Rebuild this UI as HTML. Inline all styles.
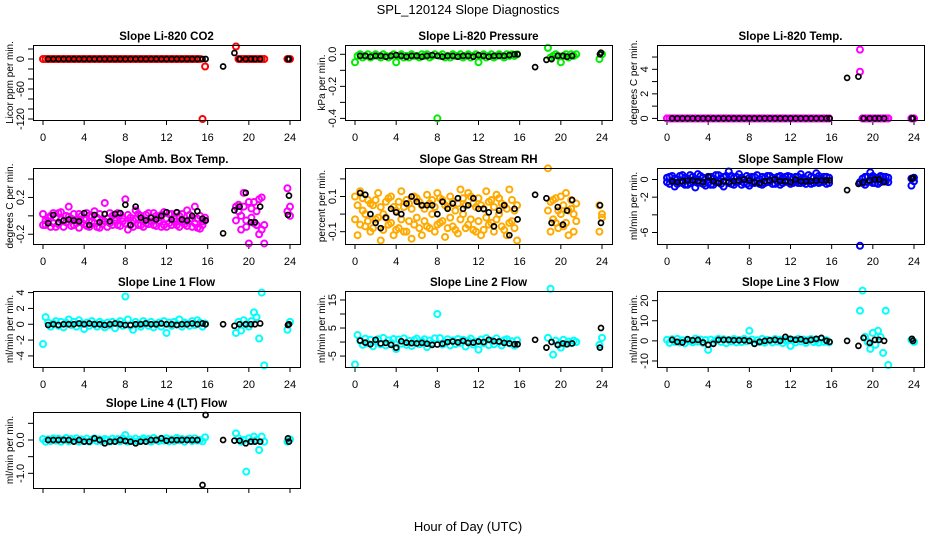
<!DOCTYPE html>
<html><head><meta charset="utf-8"><style>
html,body{margin:0;padding:0;background:#fff;}
svg{display:block;font-family:"Liberation Sans",sans-serif;}
</style></head><body>
<svg id="chart" width="936" height="540" viewBox="0 0 936 540" xmlns="http://www.w3.org/2000/svg">
<text x="468" y="14" text-anchor="middle" font-size="13">SPL_120124  Slope Diagnostics</text>
<text x="468" y="531" text-anchor="middle" font-size="13">Hour of Day (UTC)</text>
</svg>
<script>
const cHours=[0,0.25,0.5,0.75,1,1.25,1.5,1.75,2,2.25,2.5,2.75,3,3.25,3.5,3.75,4,4.25,4.5,4.75,5,5.25,5.5,5.75,6,6.25,6.5,6.75,7,7.25,7.5,7.75,8,8.25,8.5,8.75,9,9.25,9.5,9.75,10,10.25,10.5,10.75,11,11.25,11.5,11.75,12,12.25,12.5,12.75,13,13.25,13.5,13.75,14,14.25,14.5,14.75,15,15.25,15.5,15.75,18.75,19,19.25,19.5,19.75,20,20.25,20.5,20.75,21,21.25,21.5,23.75,24];
const kHours=[0.5,1,1.5,2,2.5,3,3.5,4,4.5,5,5.5,6,6.5,7,7.5,8,8.5,9,9.5,10,10.5,11,11.5,12,12.5,13,13.5,14,14.5,15,15.5,15.8,17.5,18.6,19.1,19.7,20.2,20.6,21.1,23.8,23.9];
const xTicks=[0,4,8,12,16,20,24];

const co2C=[0,0,0,0,0,0,0,0,0,0,0,0,0,0,0,0,0,0,0,0,0,0,0,0,0,0,0,0,0,0,0,0,0,0,0,0,0,0,0,0,0,0,0,0,0,0,0,0,0,0,0,0,0,0,0,0,0,0,0,0,0,0,-120,-15,25,0,0,0,0,0,0,0,0,0,0,0,0,0];
const co2K=[0,0,0,0,0,0,0,0,0,0,0,0,0,0,0,0,0,0,0,0,0,0,0,0,0,0,0,0,0,0,0,0,-15,12,0,0,0,0,0,0,0];
const presC=[-0.05,-0.01,0,-0.02,-0.01,0,-0.02,-0.01,0,-0.01,-0.02,0,-0.01,-0.02,-0.01,0,-0.05,-0.01,0,-0.02,-0.01,-0.02,0,-0.01,-0.01,-0.02,0,-0.01,0,-0.02,-0.01,0,-0.40,-0.01,0,-0.02,-0.01,-0.02,0,-0.01,-0.01,0,-0.02,-0.01,0,-0.02,-0.01,0,-0.05,-0.01,0,-0.02,-0.01,0,-0.02,-0.01,0,-0.01,-0.02,0,-0.01,0,-0.01,0,0.04,-0.02,-0.01,0,-0.01,-0.05,-0.01,0,-0.02,0,-0.01,0,-0.03,0];
const presK=[-0.01,-0.01,-0.015,-0.01,-0.01,-0.015,-0.01,-0.005,-0.01,-0.015,-0.01,-0.01,-0.015,-0.01,-0.005,-0.01,-0.015,-0.01,-0.01,-0.015,-0.01,-0.01,-0.015,-0.005,-0.01,-0.015,-0.01,-0.01,-0.01,-0.005,0,0,-0.08,-0.035,-0.03,-0.01,-0.01,-0.015,-0.01,0,0.01];
const tempC=[0,0,0,0,0,0,0,0,0,0,0,0,0,0,0,0,0,0,0,0,0,0,0,0,0,0,0,0,0,0,0,0,0,0,0,0,0,0,0,0,0,0,0,0,0,0,0,0,0,0,0,0,0,0,0,0,0,0,0,0,0,0,0,0,5.6,0,0,0,0,0,0,0,0,0,0,0,0,0];
const tempC2=[0,0,0,0,0,0,0,0,0,0,0,0,0,0,0,0,0,0,0,0,0,0,0,0,0,0,0,0,0,0,0,0,0,0,0,0,0,0,0,0,0,0,0,0,0,0,0,0,0,0,0,0,0,0,0,0,0,0,0,0,0,0,0,0,3.8,0,0,0,0,0,0,0,0,0,0,0,0,0];
const tempK=[0,0,0,0,0,0,0,0,0,0,0,0,0,0,0,0,0,0,0,0,0,0,0,0,0,0,0,0,0,0,0,0,3.3,3.4,0,0,0,0,0,0,0];
const ambC=[-0.1,-0.05,-0.02,0.0,-0.08,-0.12,0.03,-0.04,-0.06,0.0,0.1,-0.03,-0.1,-0.05,0.02,-0.07,-0.04,-0.11,0.0,-0.06,0.05,-0.02,-0.13,-0.05,0.14,-0.03,-0.08,0.0,-0.05,-0.1,0.02,-0.06,0.18,-0.15,-0.02,-0.05,0.06,-0.1,0.0,-0.04,-0.08,0.03,-0.06,-0.1,0.0,-0.05,-0.12,0.04,-0.03,-0.08,0.02,-0.06,-0.1,0.0,-0.04,-0.09,0.06,-0.05,-0.12,0.1,-0.03,-0.14,-0.06,-0.02,0.1,0.05,-0.15,0.25,-0.05,-0.3,0.08,0.15,-0.1,-0.2,0.2,-0.3,0.3,0.0];
const ambC2=[0.02,-0.1,-0.06,-0.12,0.03,-0.02,-0.09,0.04,-0.12,-0.07,-0.01,-0.11,0.02,-0.08,-0.13,0.0,-0.09,0.03,-0.12,-0.01,-0.08,-0.12,0.02,-0.09,-0.06,-0.12,0.03,-0.1,-0.02,0.03,-0.11,-0.03,-0.08,0.01,-0.1,-0.12,-0.03,0.02,-0.1,-0.12,0.01,-0.09,-0.02,0.03,-0.11,-0.02,0.01,-0.1,-0.12,0.02,-0.1,-0.03,0.03,-0.12,0.02,-0.06,-0.11,0.01,-0.03,-0.08,-0.13,0.0,-0.1,-0.05,-0.05,0.12,0.0,0.1,-0.12,0.15,-0.02,-0.08,0.05,0.18,-0.15,-0.1,0.05,0.1];
const ambK=[-0.08,0.01,-0.07,-0.05,-0.04,-0.05,-0.06,0.03,-0.1,0.01,-0.07,0.02,-0.06,0.02,0.03,0.12,-0.1,0.1,-0.02,-0.05,-0.02,-0.04,0.0,0.04,-0.04,0.04,-0.04,-0.05,0.0,0.05,-0.03,-0.05,-0.19,0.06,0.1,0.25,-0.07,-0.07,0.1,0.01,0.22];
const rhC=[0.1,-0.12,0.13,0.02,-0.07,0.08,-0.1,0.05,-0.03,0.12,-0.15,0.0,0.07,-0.06,0.1,-0.12,0.02,-0.08,0.13,0.04,-0.1,0.06,-0.14,0.1,-0.02,0.07,-0.12,0.03,0.11,-0.08,0.0,-0.1,0.12,-0.05,0.08,-0.13,0.04,0.1,-0.07,0.02,-0.11,0.14,0.0,-0.08,0.12,-0.03,0.06,-0.1,0.09,-0.12,0.03,0.13,-0.06,0.08,-0.1,0.11,0.0,-0.07,0.05,-0.12,0.14,-0.04,0.02,-0.15,0.26,-0.1,0.08,-0.05,0.02,0.1,-0.07,0.12,-0.12,0.03,-0.1,0.06,-0.1,-0.02];
const rhC2=[-0.03,0.05,-0.06,0.09,0.0,-0.04,0.06,-0.08,0.08,-0.02,0.04,-0.09,-0.02,0.09,-0.05,0.04,-0.09,0.07,-0.03,-0.1,0.08,-0.04,0.03,-0.06,0.09,-0.08,0.05,-0.04,-0.07,0.06,0.08,0.04,-0.06,0.09,-0.04,0.05,-0.08,-0.02,0.07,-0.09,0.06,-0.03,0.09,0.05,-0.06,0.1,-0.09,0.04,-0.04,0.05,-0.09,-0.02,0.07,-0.05,0.04,-0.03,0.09,0.06,-0.09,0.03,-0.05,0.08,-0.08,0.05,0.02,0.07,-0.03,0.09,-0.08,0.0,0.05,-0.05,0.02,0.08,0.0,-0.04,0.05,0.0];
const rhK=[0.12,0.11,0.0,-0.05,-0.08,-0.02,0.03,0.01,0.0,0.06,0.1,0.07,0.05,0.05,0.05,0.0,0.07,0.03,0.06,0.09,0.03,0.05,0.09,0.03,0.03,0.01,-0.07,0.02,0.05,-0.12,0.03,-0.03,0.11,0.09,-0.05,0.04,-0.06,0.02,0.08,0.05,-0.05];
const flowC=[0.2,-0.5,0.4,-0.8,0.0,-0.3,0.5,-0.6,0.1,-0.4,0.3,-0.9,0.6,-0.2,0.2,-0.7,-0.4,0.3,-0.6,0.5,-0.2,0.1,-0.8,0.4,0.9,-0.5,0.2,-0.3,0.6,-0.6,0.0,0.4,-0.7,0.3,-0.4,0.5,0.0,-0.6,0.2,-0.3,0.4,-0.5,0.1,0.3,-0.6,0.2,-0.2,0.4,-0.5,0.1,0.3,-0.4,0.6,-0.3,0.0,0.5,-0.5,0.2,0.7,-0.4,0.1,0.3,-0.5,0.2,-7.5,0.1,-0.6,0.3,0.8,-0.4,0.2,-0.5,0.4,-0.2,0.3,-0.3,-0.7,0.2];
const flowC2=[-0.3,0.3,-0.2,0.1,-0.5,0.4,-0.4,0.2,-0.6,0.5,-0.3,0.0,-0.4,0.4,-0.5,0.1,0.3,-0.6,0.1,-0.3,0.5,-0.5,0.3,-0.2,-0.4,0.4,-0.6,0.3,-0.2,0.2,-0.4,-0.5,0.2,-0.4,0.3,-0.2,-0.5,0.3,-0.4,0.4,-0.2,0.2,-0.5,-0.3,0.4,-0.4,0.3,-0.3,0.3,-0.4,-0.2,0.3,-0.4,0.2,-0.5,-0.2,0.3,-0.4,-0.2,0.4,-0.3,-0.2,0.3,-0.4,-0.3,-0.4,0.3,-0.3,-0.2,0.4,-0.4,0.2,-0.3,0.3,-0.2,0.2,0.1,-0.2];
const flowK=[-0.2,-0.3,-0.2,-0.1,-0.1,-0.2,-0.3,0.3,-0.2,-0.4,-0.2,-0.3,-0.2,-0.1,0.0,-0.1,-0.3,-0.4,-0.2,-0.1,0.0,-0.2,-0.2,-0.3,0.0,-0.2,-0.2,-0.2,-0.1,-0.1,-0.1,-0.1,-1.2,-0.5,-0.3,-0.1,0.0,0.0,-0.3,0.1,0.2];
const line1C=[-2.5,0.9,0.2,-0.3,0.1,0.4,-0.2,0.3,-0.4,0.2,0.6,-0.1,0.3,-0.3,0.5,0.1,-0.6,0.2,-0.2,0.4,0.0,-0.3,0.3,0.1,-0.4,0.2,-0.1,0.3,-0.5,0.1,0.4,-0.2,3.5,0.6,-0.2,-0.7,0.3,0.0,-0.3,0.4,0.1,-0.2,0.3,-0.4,0.0,0.2,-0.3,0.4,-1.1,0.2,-0.2,0.3,0.0,0.6,-0.3,0.2,0.1,-0.2,0.4,-0.1,0.5,0.2,-0.3,0.1,-1.1,0.3,-0.8,0.5,0.0,-0.3,0.4,1.5,0.9,-1.8,4.0,-5.2,-0.7,0.3];
const line1K=[-0.1,0.0,-0.1,0.0,0.0,0.0,0.1,0.0,0.1,0.0,0.0,-0.1,0.0,0.1,0.0,-0.1,-0.1,0.0,0.0,0.1,0.0,0.0,0.1,0.0,0.0,-0.1,0.0,0.0,0.1,0.0,0.1,0.0,0.0,-0.2,0.0,0.0,0.0,0.0,0.1,-0.1,0.0];
const line2C=[-8,2.5,0.5,-1.0,1.2,-0.5,0.8,-1.5,0.3,1.0,-0.8,1.5,-1.2,0.6,-0.3,1.1,-2.5,0.9,-0.6,1.3,-1.0,0.4,-1.4,0.7,1.2,-0.8,0.2,1.0,-1.8,0.5,-0.4,1.3,10,1.4,-0.9,-0.2,1.0,-1.2,0.6,-0.7,1.1,-0.3,0.8,-1.6,0.4,1.2,-0.9,0.2,-2.7,0.9,-0.4,1.4,-1.1,0.5,-0.8,1.3,0.0,-1.2,0.7,1.0,-0.5,0.3,-1.3,0.6,1.5,19,-4.5,0.5,-1.0,-2.0,0.8,-0.6,0.2,-0.4,0.5,0.0,-1.0,1.5];
const line2K=[0.5,-0.2,-0.8,0.8,-0.5,-0.3,-1.0,-2.0,0.3,-0.2,-0.4,-0.5,-0.3,-0.6,-1.0,-0.9,-0.6,0.0,0.2,-0.1,0.4,-0.3,-0.2,0.2,0.0,0.8,0.3,0.2,-0.3,-0.5,-0.8,-0.8,0.8,-2.0,0.0,-1.0,-0.5,-0.8,-0.5,-2.0,5.0];
const line3C=[0.5,-1.0,0.8,-0.5,1.0,-0.8,0.3,-1.2,0.6,0.0,-0.7,1.1,-0.4,0.7,-1.0,0.4,-4.5,0.6,-0.9,0.2,1.0,-0.5,0.8,-1.1,0.4,-0.3,0.9,-0.8,0.5,-0.6,1.0,-0.2,5,0.7,-1.0,0.3,-0.6,1.0,-0.9,0.5,0.2,-0.8,0.9,-0.4,0.6,-1.1,0.3,0.8,-2.5,0.5,-0.8,1.0,-0.3,0.7,-1.0,0.4,0.9,-0.6,0.2,-0.9,1.0,-0.5,0.3,-0.8,15,25,2,-0.5,-4,4,-2,5,2,-6,15,-12,0.5,-0.5];
const line3K=[0.5,-0.5,-0.8,0.8,0.3,0.5,-0.8,-2.0,-1.5,0.5,0.5,0.5,0.3,0.3,0.3,0.0,-1.5,-0.5,0.0,0.3,0.5,0.0,2.0,1.0,0.5,0.8,0.0,0.5,1.0,1.5,0.0,-0.5,0.0,-2.5,1.5,-1.0,0.5,0.5,0.0,1.0,0.0];
const line4C=[0.03,-0.05,0.02,-0.03,0.05,-0.02,0.04,-0.05,0.01,0.06,-0.04,0.03,-0.02,0.05,-0.05,0.02,-0.03,0.04,-0.05,0.01,0.05,-0.03,0.02,-0.04,0.03,0.0,-0.05,0.04,-0.02,0.03,-0.04,0.05,0.15,-0.05,0.02,-0.03,0.04,-0.04,0.01,0.05,-0.02,0.03,-0.05,0.06,0.0,-0.03,0.04,-0.02,0.05,-0.04,0.02,-0.03,0.06,-0.01,0.03,-0.05,0.02,0.04,-0.03,0.05,-0.02,0.0,-0.04,0.08,0.2,0.05,-0.05,0.0,-0.95,0.05,-0.03,0.1,0.0,-0.3,0.1,-0.05,-0.05,0.02];
const line4K=[0.0,0.0,0.0,0.0,0.0,-0.05,0.0,-0.05,-0.05,0.05,0.0,-0.1,-0.05,-0.05,0.0,-0.03,-0.05,-0.1,-0.05,-0.05,0.0,0.0,0.05,-0.02,0.0,0.0,0.0,0.0,0.0,0.0,-1.35,0.75,0.0,-0.02,-0.02,-0.1,-0.05,-0.05,-0.05,0.05,-0.05];

const panels=[
 {id:'co2',title:'Slope Li-820 CO2',ylab:'Licor ppm per min.',col:0,row:0,ymin:-122,ymax:28,ticks:[20,0,-20,-40,-60,-80,-100,-120],labels:[0,-60,-120],color:'#ff0000',series:[co2C],black:co2K},
 {id:'pressure',title:'Slope Li-820 Pressure',ylab:'kPa per min.',col:1,row:0,ymin:-0.41,ymax:0.058,ticks:[0,-0.1,-0.2,-0.3,-0.4],labels:[0,-0.2,-0.4],fmt:1,color:'#00ee00',series:[presC],black:presK},
 {id:'temp',title:'Slope Li-820 Temp.',ylab:'degrees C per min.',col:2,row:0,ymin:-0.13,ymax:5.98,ticks:[0,1,2,3,4,5],labels:[0,2,4],color:'#ff00ff',series:[tempC,tempC2],black:tempK},
 {id:'amb-box-temp',title:'Slope Amb. Box Temp.',ylab:'degrees C per min.',col:0,row:1,ymin:-0.306,ymax:0.52,ticks:[-0.2,0,0.2,0.4],labels:[-0.2,0.2],fmt:1,color:'#ff00ff',series:[ambC,ambC2],black:ambK},
 {id:'gas-stream-rh',title:'Slope Gas Stream RH',ylab:'percent per min.',col:1,row:1,ymin:-0.17,ymax:0.262,ticks:[-0.1,0,0.1,0.2],labels:[-0.1,0.1],fmt:1,color:'#ffaa00',series:[rhC,rhC2],black:rhK},
 {id:'sample-flow',title:'Slope Sample Flow',ylab:'ml/min per min.',col:2,row:1,ymin:-7.3,ymax:1.3,ticks:[0,-2,-4,-6],labels:[0,-2,-6],color:'#0000ff',series:[flowC,flowC2],black:flowK},
 {id:'line1-flow',title:'Slope Line 1 Flow',ylab:'ml/min per min.',col:0,row:2,ymin:-5.4,ymax:4.2,ticks:[4,2,0,-2,-4],labels:[4,2,0,-2,-4],color:'#00ffff',series:[line1C],black:line1K},
 {id:'line2-flow',title:'Slope Line 2 Flow',ylab:'ml/min per min.',col:1,row:2,ymin:-8.9,ymax:18.2,ticks:[15,10,5,0,-5],labels:[15,5,-5],color:'#00ffff',series:[line2C],black:line2K},
 {id:'line3-flow',title:'Slope Line 3 Flow',ylab:'ml/min per min.',col:2,row:2,ymin:-13,ymax:24.8,ticks:[20,10,0,-10],labels:[20,10,0,-10],color:'#00ffff',series:[line3C],black:line3K},
 {id:'line4-flow',title:'Slope Line 4 (LT) Flow',ylab:'ml/min per min.',col:0,row:3,ymin:-1.44,ymax:0.84,ticks:[0.5,0,-0.5,-1.0],labels:[0,-1],fmt:1,color:'#00ffff',series:[line4C],black:line4K}
];
const rowTop=[45,168,291,412], rowBot=[120,244,367,488];
const NS='http://www.w3.org/2000/svg';
const svg=document.getElementById('chart');
function mk(tag,attrs,parent){const e=document.createElementNS(NS,tag);for(const k in attrs)e.setAttribute(k,attrs[k]);(parent||svg).appendChild(e);return e;}
panels.forEach(p=>{
  const L=33+312*p.col,R=300+312*p.col,T=rowTop[p.row],B=rowBot[p.row];
  const xs=h=>L+10+h*(247/24);
  const ys=v=>B-(v-p.ymin)/(p.ymax-p.ymin)*(B-T);
  const g=mk('g',{});
  
  
  const t=mk('text',{x:(L+R)/2,y:T-5,'text-anchor':'middle','font-size':'11.5','font-weight':'bold'},g);
  
  
  t.textContent=p.title;
  const yl=mk('text',{x:0,y:0,transform:`translate(${L-20},${(T+B)/2}) rotate(-90)`,'text-anchor':'middle','font-size':'10'},g);
  
  
  yl.textContent=p.ylab;
  const xa=mk('g',{},g);
  
  
  xTicks.forEach(v=>{
    mk('line',{x1:xs(v),x2:xs(v),y1:B,y2:B+5,stroke:'#000'},xa);
    if(p.row===3) return;
    const tl=mk('text',{x:xs(v),y:B+21,'text-anchor':'middle','font-size':'11'},xa);
    
    
    tl.textContent=v;
  });
  const ya=mk('g',{},g);
  
  
  p.ticks.forEach(v=>{mk('line',{x1:L-5,x2:L,y1:ys(v),y2:ys(v),stroke:'#000'},ya);});
  p.labels.forEach(v=>{
    const tl=mk('text',{x:0,y:0,transform:`translate(${L-9},${ys(v)}) rotate(-90)`,'text-anchor':'middle','font-size':'11'},ya);
    
    
    tl.textContent=p.fmt?v.toFixed(p.fmt):v;
  });
  const pts=mk('g',{},g);
  
  
  p.series.forEach(arr=>{
    arr.forEach((v,i)=>{
      if(i>=cHours.length) return;
      const c=mk('circle',{cx:xs(cHours[i]),cy:ys(v),r:3,fill:'none',stroke:p.color,'stroke-width':2},pts);
      
      
    });
  });
  p.black.forEach((v,i)=>{
    if(i>=kHours.length) return;
    const c=mk('circle',{cx:xs(kHours[i]),cy:ys(v),r:2.5,fill:'none',stroke:'#000','stroke-width':1.7},pts);
    
    
  });
  const box=mk('rect',{x:L+0.5,y:T+0.5,width:R-L,height:B-T,fill:'none',stroke:'#000'},g);
  
  
});
</script>
</body></html>
